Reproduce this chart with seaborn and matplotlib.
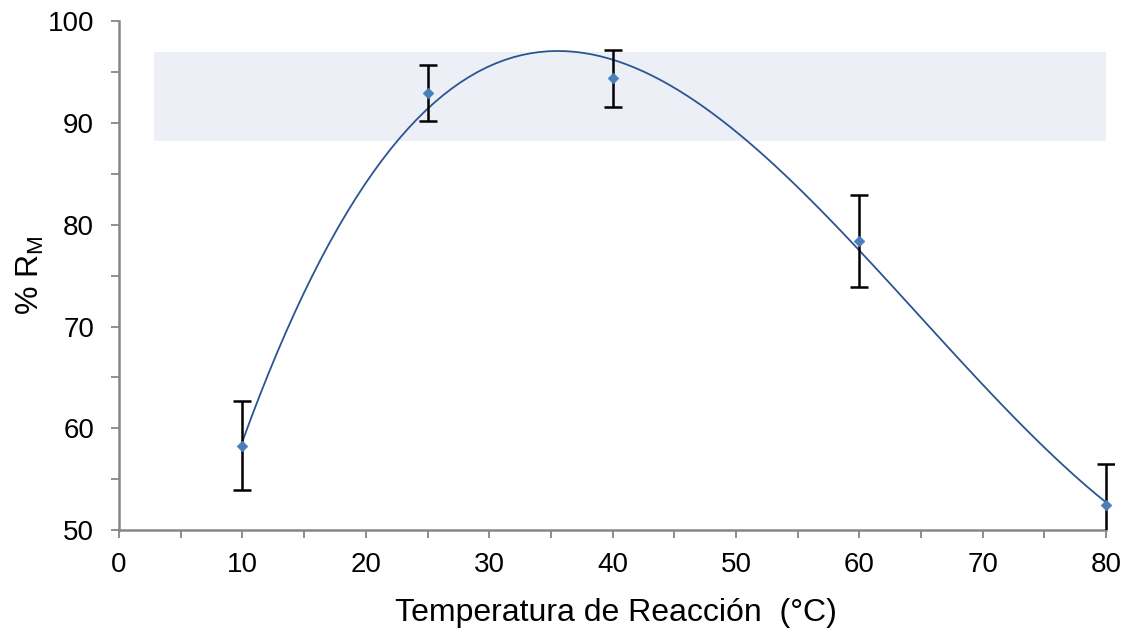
import numpy as np
import pandas as pd
import matplotlib
matplotlib.use("Agg")
import matplotlib.pyplot as plt
import seaborn as sns

temperatura = [10, 25, 40, 60, 80]
rm = [58.3, 92.9, 94.4, 78.4, 52.5]
error = [4.35, 2.75, 2.8, 4.5, 4.0]
band_x = [2.8, 80]
band_low = 88.2
band_high = 97.0
x_ticks = [0, 10, 20, 30, 40, 50, 60, 70, 80]
y_ticks = [50, 60, 70, 80, 90, 100]

sns.set_theme(style="white")
plt.rcParams['font.family'] = ['Liberation Sans', 'DejaVu Sans']
plt.rcParams['text.color'] = 'black'
plt.rcParams['axes.labelcolor'] = 'black'
plt.rcParams['xtick.color'] = 'black'
plt.rcParams['ytick.color'] = 'black'

df = pd.DataFrame({"T": temperatura, "R": rm, "err": error})

fig = plt.figure(figsize=(11.34, 6.41), dpi=100)
ax = fig.add_axes([0.105, 0.173, 0.877, 0.794])

ax.fill_between(band_x, band_low, band_high, color="#ECF0F6", lw=0, zorder=0)

sns.regplot(data=df, x="T", y="R", order=3, ci=None, scatter=False, truncate=True,
            line_kws=dict(color="#2B5592", lw=1.3), ax=ax)
ax.errorbar(df["T"], df["R"], yerr=df["err"], fmt="none", ecolor="black",
            elinewidth=1.8, capsize=6.5, capthick=1.8, zorder=3)
sns.scatterplot(data=df, x="T", y="R", marker="D", s=30, color="#4A7EBB",
                edgecolor="#4A7EBB", ax=ax, zorder=4)

ax.set_xlim(0, 80.6)
ax.set_ylim(50, 100)
ax.set_xticks(x_ticks)
ax.set_yticks(y_ticks)
ax.set_xticks(np.arange(5, 80, 10), minor=True)
ax.set_yticks(np.arange(55, 100, 10), minor=True)
ax.tick_params(axis="both", which="both", direction="out", length=6, width=1.3,
               color="#868686", labelcolor="black", labelsize=20, bottom=True, left=True)
ax.tick_params(axis="y", which="major", pad=12)
ax.tick_params(axis="x", which="major", pad=10)
for side in ["top", "right"]:
    ax.spines[side].set_visible(False)
for side in ["left", "bottom"]:
    ax.spines[side].set_color("#868686")
    ax.spines[side].set_linewidth(1.8)
ax.spines["bottom"].set_bounds(0, 80)

ax.set_xlabel("Temperatura de Reacción  (°C)", fontsize=23, labelpad=14)
ax.set_ylabel("% R$_\\mathregular{M}$", fontsize=23)
ax.yaxis.set_label_coords(-0.073, 0.5)

fig.savefig("out.png", dpi=100)
